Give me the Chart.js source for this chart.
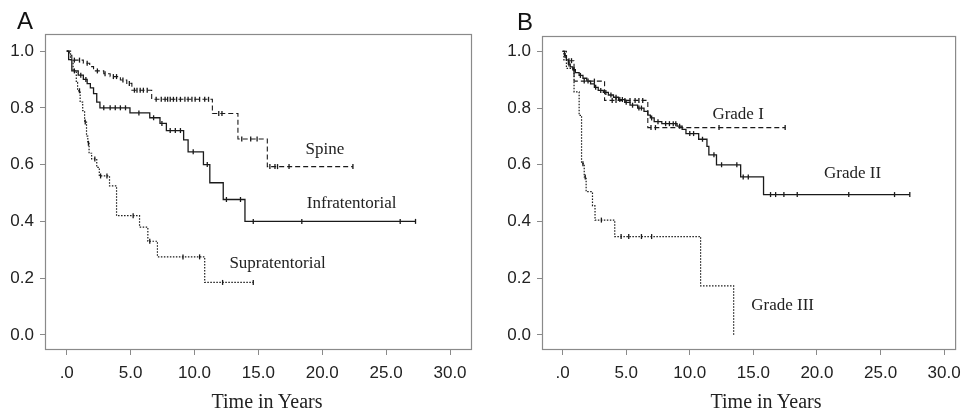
<!DOCTYPE html>
<html>
<head>
<meta charset="utf-8">
<script src="https://cdn.jsdelivr.net/npm/chart.js@4.4.1/dist/chart.umd.min.js"></script>
<style>
  html, body { margin: 0; padding: 0; background: #fff; }
  #wrap { position: relative; width: 969px; height: 415px; overflow: hidden; }
  canvas { position: absolute; top: 0; }
  #cA { left: 0; }
  #cB { left: 497px; }
  .panel { position: absolute; font: 24px "Liberation Sans", Arial, sans-serif; line-height: 24px; color: #111; }
  .xtitle { position: absolute; width: 200px; text-align: center; font: 20px "Liberation Serif", "Times New Roman", serif; line-height: 20px; color: #222; }
</style>
</head>
<body>
<div id="wrap">
  <canvas id="cA" width="485" height="415"></canvas>
  <canvas id="cB" width="472" height="415"></canvas>
  <div class="panel" style="left:17px; top:9px;">A</div>
  <div class="panel" style="left:517px; top:10px;">B</div>
  <div class="xtitle" style="left:167px; top:391px;">Time in Years</div>
  <div class="xtitle" style="left:666px; top:391px;">Time in Years</div>
</div>
<script>
/* Kaplan-Meier survival by tumour location (A) and by grade (B).
 * Each curve: event times + survival after the step; censor ticks sit on the curve. */

const xTicks = [0, 5, 10, 15, 20, 25, 30];
const xTickLabels = [".0", "5.0", "10.0", "15.0", "20.0", "25.0", "30.0"];
const yTicks = [0, 0.2, 0.4, 0.6, 0.8, 1.0];
const yTickLabels = ["0.0", "0.2", "0.4", "0.6", "0.8", "1.0"];

// Panel A — location
const spineTime = [0, 0.2, 0.4, 1.3, 1.8, 2.1, 2.9, 3.4, 4.2, 4.7, 5.1, 6.65, 11.4, 13.4, 15.7, 22.4];
const spineSurv = [1.0, 0.985, 0.968, 0.957, 0.945, 0.93, 0.92, 0.91, 0.898, 0.886, 0.862, 0.83, 0.78, 0.69, 0.593, 0.593];
const spineCensor = [0.6, 1.0, 1.6, 2.4, 3.0, 3.65, 3.9, 4.4, 4.9, 5.3, 5.5, 5.75, 6.0, 6.3, 7.0, 7.4, 7.7, 7.9, 8.1, 8.35, 8.6, 8.9, 9.25, 9.5, 9.8, 10.05, 10.4, 10.8, 11.1, 11.9, 12.15, 13.7, 14.4, 14.9, 15.9, 16.3, 16.5, 17.4, 22.4];

const infraTime = [0, 0.15, 0.4, 0.9, 1.3, 1.6, 1.85, 2.1, 2.35, 2.6, 4.95, 6.5, 7.3, 7.8, 9.15, 9.5, 10.7, 11.2, 12.25, 13.95, 27.3];
const infraSurv = [1.0, 0.97, 0.93, 0.915, 0.9, 0.885, 0.87, 0.85, 0.82, 0.80, 0.782, 0.765, 0.745, 0.72, 0.687, 0.645, 0.60, 0.536, 0.477, 0.40, 0.40];
const infraCensor = [0.6, 1.1, 1.5, 2.9, 3.4, 3.8, 4.2, 4.6, 5.65, 6.8, 7.45, 8.1, 8.5, 8.9, 9.9, 11.0, 12.5, 13.6, 14.6, 18.4, 26.1, 27.3];

const supraTime = [0, 0.3, 0.5, 0.75, 0.85, 1.05, 1.25, 1.4, 1.55, 1.65, 1.75, 1.95, 2.35, 2.55, 3.35, 3.9, 5.7, 6.35, 7.1, 10.8, 14.6];
const supraSurv = [1.0, 0.97, 0.93, 0.89, 0.86, 0.82, 0.79, 0.75, 0.70, 0.675, 0.64, 0.62, 0.59, 0.56, 0.525, 0.42, 0.38, 0.33, 0.275, 0.185, 0.185];
const supraCensor = [1.0, 1.45, 1.7, 2.2, 2.65, 3.15, 5.2, 6.5, 9.1, 10.4, 12.2, 14.6];

// Panel B — grade
const g1Time = [0, 0.3, 0.9, 3.3, 6.7, 17.5];
const g1Surv = [1.0, 0.967, 0.895, 0.827, 0.731, 0.731];
const g1Censor = [0.5, 0.7, 1.7, 2.5, 3.9, 4.2, 4.9, 5.3, 5.7, 6.0, 6.3, 6.95, 7.3, 12.3, 17.5];

const g2Time = [0, 0.15, 0.3, 0.45, 0.6, 0.8, 1.0, 1.3, 1.6, 1.9, 2.2, 2.5, 2.8, 3.2, 3.6, 4.0, 4.4, 4.9, 5.3, 5.9, 6.4, 6.7, 6.9, 7.2, 7.8, 9.0, 9.4, 9.7, 10.7, 11.35, 11.5, 12.1, 14.0, 15.8, 27.3];
const g2Surv = [1.0, 0.985, 0.97, 0.955, 0.945, 0.935, 0.925, 0.915, 0.905, 0.895, 0.885, 0.873, 0.862, 0.855, 0.846, 0.838, 0.83, 0.82, 0.81, 0.80, 0.788, 0.775, 0.765, 0.752, 0.745, 0.736, 0.725, 0.71, 0.69, 0.665, 0.635, 0.60, 0.557, 0.495, 0.495];
const g2Censor = [0.2, 0.5, 0.9, 1.4, 2.0, 2.6, 3.0, 3.4, 3.8, 4.2, 4.5, 4.7, 5.0, 5.5, 6.0, 6.2, 7.0, 7.5, 8.1, 8.4, 8.7, 8.9, 9.2, 10.0, 10.3, 11.0, 11.9, 12.5, 13.7, 14.2, 14.6, 16.35, 16.75, 17.4, 18.45, 22.5, 26.1, 27.3];

const g3Time = [0, 0.1, 0.3, 0.9, 1.3, 1.49, 1.7, 1.85, 2.35, 2.55, 4.1, 10.85, 13.45];
const g3Surv = [1.0, 0.97, 0.94, 0.857, 0.774, 0.604, 0.557, 0.505, 0.455, 0.405, 0.347, 0.173, 0.0];
const g3Censor = [1.6, 1.78, 3.05, 4.6, 5.2, 6.2, 7.0];

const INK = "#1a1a1a";
const FRAME = "#8a8a8a";
const SANS = '"Liberation Sans", Arial, sans-serif';
const SERIF = '"Liberation Serif", "Times New Roman", serif';

// step-function value at t (value after the last event at or before t)
function survivalAt(times, surv, t) {
  let s = surv[0];
  for (let i = 0; i < times.length; i++) {
    if (times[i] <= t) s = surv[i];
  }
  return s;
}

function curve(times, surv, dash, width) {
  return {
    data: times.map((t, i) => ({ x: t, y: surv[i] })),
    showLine: true,
    stepped: "before",
    borderColor: INK,
    borderWidth: width,
    borderDash: dash,
    pointRadius: 0,
  };
}

function censor(times, surv, marks) {
  return {
    data: marks.map((t) => ({ x: t, y: survivalAt(times, surv, t) })),
    showLine: false,
    pointStyle: "line",
    rotation: 90,
    pointRadius: 2.5,
    borderColor: INK,
    borderWidth: 1.3,
  };
}

const frameAndLabels = {
  id: "frameAndLabels",
  beforeDatasetsDraw(chart) {
    const { ctx, chartArea: a } = chart;
    ctx.save();
    ctx.strokeStyle = FRAME;
    ctx.lineWidth = 1.2;
    ctx.strokeRect(a.left + 0.5, a.top + 0.5, a.right - a.left - 1, a.bottom - a.top - 1);
    ctx.restore();
  },
  afterDatasetsDraw(chart, args, opts) {
    const { ctx, scales: { x, y } } = chart;
    ctx.save();
    ctx.font = `17px ${SERIF}`;
    ctx.fillStyle = "#222";
    ctx.textAlign = "center";
    ctx.textBaseline = "alphabetic";
    (opts.labels || []).forEach((l) => {
      ctx.fillText(l.text, x.getPixelForValue(l.x), y.getPixelForValue(l.y));
    });
    ctx.restore();
  },
};

function makePanel(id, datasets, labels, pad, xr, yr) {
  return new Chart(document.getElementById(id), {
    type: "scatter",
    data: { datasets },
    plugins: [frameAndLabels],
    options: {
      responsive: false,
      devicePixelRatio: 1,
      animation: false,
      layout: { padding: pad },
      scales: {
        x: {
          type: "linear",
          min: xr[0],
          max: xr[1],
          afterBuildTicks: (s) => { s.ticks = xTicks.map((v) => ({ value: v })); },
          afterFit: (s) => { s.height = 65; },
          ticks: {
            padding: 8,
            color: "#222",
            font: { family: SANS, size: 17 },
            callback: (v, i) => xTickLabels[i],
          },
          grid: { drawOnChartArea: false, drawTicks: true, tickLength: 5, color: FRAME },
          border: { display: false },
        },
        y: {
          type: "linear",
          min: yr[0],
          max: yr[1],
          afterBuildTicks: (s) => { s.ticks = yTicks.map((v) => ({ value: v })); },
          afterFit: (s) => { s.width = 45; },
          ticks: {
            padding: 6,
            color: "#222",
            font: { family: SANS, size: 17 },
            callback: (v, i) => yTickLabels[i],
          },
          grid: { drawOnChartArea: false, drawTicks: true, tickLength: 5, color: FRAME },
          border: { display: false },
        },
      },
      plugins: {
        legend: { display: false },
        tooltip: { enabled: false },
        frameAndLabels: { labels },
      },
    },
  });
}

makePanel("cA", [
  curve(spineTime, spineSurv, [5, 3], 1.1),
  curve(infraTime, infraSurv, [], 1.3),
  curve(supraTime, supraSurv, [1.5, 1.5], 1.2),
  censor(spineTime, spineSurv, spineCensor),
  censor(infraTime, infraSurv, infraCensor),
  censor(supraTime, supraSurv, supraCensor),
], [
  { text: "Spine", x: 20.2, y: 0.637 },
  { text: "Infratentorial", x: 22.3, y: 0.446 },
  { text: "Supratentorial", x: 16.5, y: 0.235 },
], { top: 34, right: 13, left: 0, bottom: 0 }, [-1.70, 31.72], [-0.053, 1.06]);

makePanel("cB", [
  curve(g1Time, g1Surv, [5, 3], 1.1),
  curve(g2Time, g2Surv, [], 1.3),
  curve(g3Time, g3Surv, [1.5, 1.5], 1.2),
  censor(g1Time, g1Surv, g1Censor),
  censor(g2Time, g2Surv, g2Censor),
  censor(g3Time, g3Surv, g3Censor),
], [
  { text: "Grade I", x: 13.8, y: 0.763 },
  { text: "Grade II", x: 22.8, y: 0.554 },
  { text: "Grade III", x: 17.3, y: 0.088 },
], { top: 36, right: 11, left: 0, bottom: 0 }, [-1.62, 30.94], [-0.053, 1.054]);
</script>
</body>
</html>
